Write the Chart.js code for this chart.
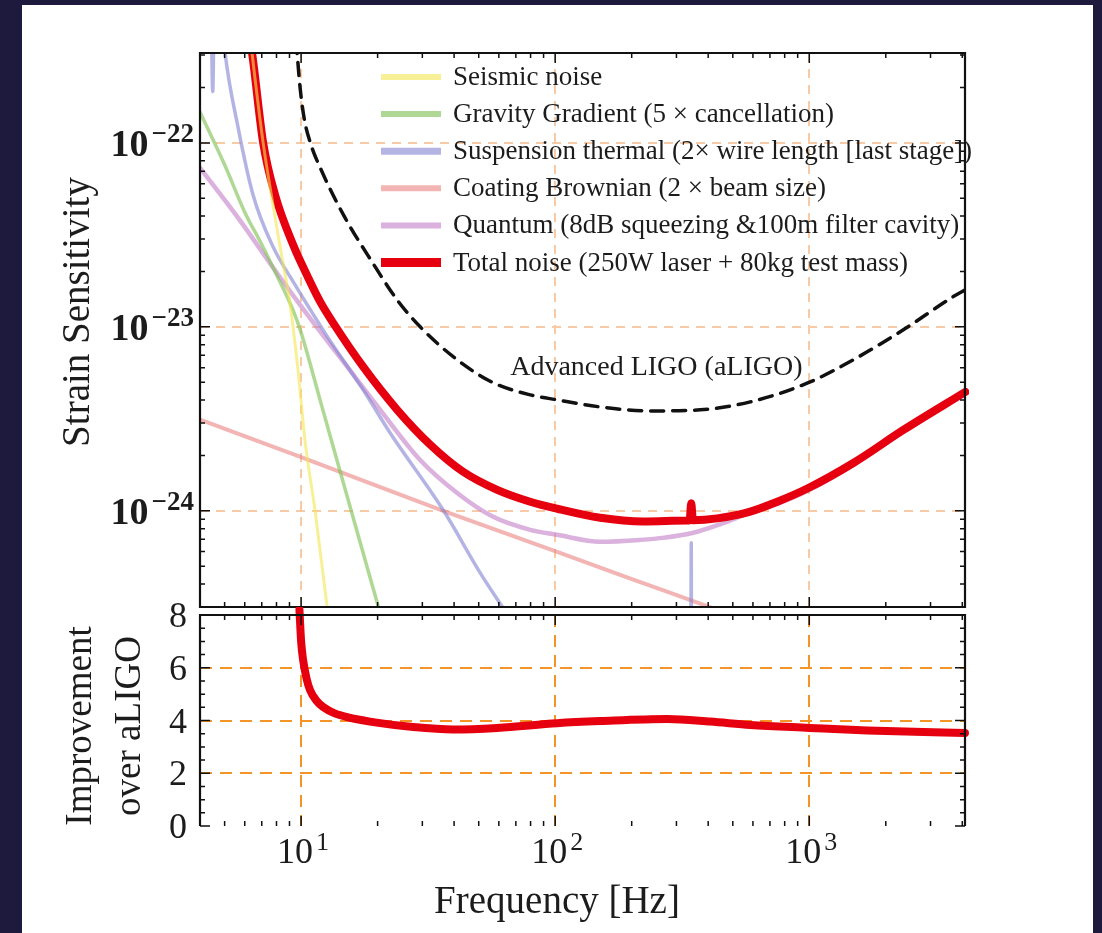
<!DOCTYPE html>
<html lang="en">
<head>
<meta charset="UTF-8">
<title>Strain Sensitivity</title>
<script src="https://cdn.jsdelivr.net/npm/chart.js"></script>
<style>
    body { margin: 0; width: 1102px; height: 933px; background: #1e1a3e; overflow: hidden; }
    #panel { position: absolute; left: 22px; top: 5px; width: 1071px; height: 928px; background: #fff; }
    canvas { position: absolute; left: 0; }
    #strainChart { top: 0; }
    #gainChart { top: 600px; }
</style>
</head>
<body>
<div id="panel"></div>
<canvas id="strainChart" width="1102" height="611"></canvas>
<canvas id="gainChart" width="1102" height="333"></canvas>

<script>
// tick values
const freqTicks = [10, 100, 1000];
const strainTicks = [1e-22, 1e-23, 1e-24];
const gainTicks = [0, 2, 4, 6, 8];

// noise curves: frequency [Hz] and strain [1/sqrt(Hz)]
const seismicF = [6.2, 6.41, 7.09, 7.69, 8.4, 9.05, 9.7, 10.4, 11.35, 12.66, 13.5];
const seismicH = [4.7e-22, 3.08e-22, 1.0e-22, 4.9e-23, 2.4e-23, 1.33e-23, 6.0e-24, 2.3e-24, 1.0e-24, 3.0e-25, 1.6e-25];

const gravityF = [4.0, 5.0, 6.0, 7.0, 8.0, 9.28, 10.0, 12.0, 15.0, 18.0, 19.92, 22.0];
const gravityH = [1.47e-22, 7.6e-23, 4.2e-23, 2.8e-23, 1.92e-23, 1.24e-23, 9.3e-24, 3.8e-24, 1.27e-24, 5.2e-25, 3.17e-25, 1.96e-25];

const suspF = [4.40, 4.49, 4.58, 5.02, 5.65, 6.47, 7.69, 9.47, 12.78, 17.54, 22.41, 36.24, 50.67, 61.85, 67.7, 80, 100, 150, 330, 340, 343.1, 346.2, 4100];
const suspH = [1.2e-21, 1.9e-22, 1.2e-21, 3.08e-22, 1.21e-22, 5.21e-23, 2.79e-23, 1.69e-23, 8.71e-24, 4.55e-24, 2.65e-24, 1.01e-24, 4.6e-25, 3.01e-25, 2.49e-25, 1.75e-25, 1.09e-25, 4.6e-26, 1e-27, 1e-27, 6.7e-25, 1e-27, 1e-28];

const coatingF = [4.0, 10.0, 36.24, 101.8, 202.8, 418.8, 921.8];
const coatingH = [3.13e-24, 1.96e-24, 1.0e-24, 5.98e-25, 4.23e-25, 2.95e-25, 1.97e-25];

const quantumF = [4.0, 5.65, 8.12, 10.37, 15.18, 20.47, 29.41, 41.14, 57.0, 79.73, 101.8, 150.4, 216.1, 270, 343.1, 450, 585.9, 748.2, 991.1, 1490, 2345, 4114];
const quantumH = [7.31e-23, 3.91e-23, 1.92e-23, 1.21e-23, 6.07e-24, 3.54e-24, 1.89e-24, 1.25e-24, 9.27e-25, 7.88e-25, 7.41e-25, 6.79e-25, 6.95e-25, 7.15e-25, 7.55e-25, 8.5e-25, 9.76e-25, 1.09e-24, 1.29e-24, 1.78e-24, 2.69e-24, 4.33e-24];

const totalF = [6.18, 6.41, 7.09, 7.90, 9.30, 10.66, 11.88, 13.37, 17.54, 23.88, 32.2, 43.43, 59.11, 79.73, 101.8, 150.4, 222.1, 331.0, 338.0, 343.1, 348.2, 434.3, 585.9, 748.2, 991.1, 1490, 2345, 4114];
const totalH = [4.11e-22, 3.08e-22, 1.0e-22, 5.21e-23, 2.79e-23, 1.85e-23, 1.37e-23, 1.05e-23, 6.07e-24, 3.54e-24, 2.29e-24, 1.63e-24, 1.30e-24, 1.12e-24, 1.026e-24, 9.16e-25, 8.75e-25, 8.85e-25, 8.87e-25, 1.10e-24, 8.89e-25, 9.1e-25, 9.9e-25, 1.12e-24, 1.33e-24, 1.82e-24, 2.75e-24, 4.43e-24];

const aligoF = [9.56, 9.645, 9.91, 10.27, 10.85, 12.10, 14.90, 19.04, 23.88, 29.41, 41.14, 57.0, 79.73, 101.8, 150.4, 236.6, 372.3, 585.9, 991.1, 1490, 2345, 3689, 4114];
const aligoH = [3.6e-22, 3.08e-22, 1.99e-22, 1.37e-22, 1.01e-22, 6.95e-23, 3.91e-23, 2.25e-23, 1.40e-23, 1.0e-23, 6.62e-24, 4.97e-24, 4.27e-24, 4.01e-24, 3.67e-24, 3.49e-24, 3.54e-24, 3.91e-24, 4.97e-24, 6.62e-24, 9.64e-24, 1.46e-23, 1.59e-23];

// improvement factor over aLIGO
const gainF = [9.85, 10.0, 10.18, 10.5, 10.85, 11.5, 12.21, 13.5, 15.18, 20.47, 27.61, 39.67, 59.11, 101.8, 150.4, 276.1, 407.6, 585.9, 1000, 1692, 3077, 4100];
const gainV = [8.2, 7.0, 6.3, 5.6, 5.15, 4.75, 4.51, 4.28, 4.13, 3.90, 3.75, 3.66, 3.72, 3.90, 3.98, 4.06, 3.96, 3.83, 3.72, 3.62, 3.55, 3.53];

const serif = '"Liberation Serif", "Times New Roman", serif';
const ink = '#1c1c1c';

const pts = (fs, vs) => fs.map((f, i) => ({ x: f, y: vs[i] }));

function logSteps(min, max) {
    const out = [];
    for (let d = Math.floor(Math.log10(min)); d <= Math.ceil(Math.log10(max)); d++) {
        for (let k = 1; k <= 9; k++) {
            const v = k * Math.pow(10, d);
            if (v >= min && v <= max) out.push({ v: v, major: k === 1 });
        }
    }
    return out;
}

function linSteps(min, max, step, every) {
    const out = [];
    for (let v = min; v <= max + 1e-9; v += step) out.push({ v: v, major: Math.abs(v / every - Math.round(v / every)) < 1e-9 });
    return out;
}

// "10" with a raised exponent
function power(ctx, base, exp, x, y, size, weight, align) {
    const small = Math.round(size * 0.72);
    ctx.font = weight + ' ' + size + 'px ' + serif;
    const bw = ctx.measureText(base).width;
    ctx.font = weight + ' ' + small + 'px ' + serif;
    const ew = ctx.measureText(exp).width;
    const total = bw + 3 + ew;
    const left = align === 'right' ? x - total : x - total / 2;
    ctx.textAlign = 'left';
    ctx.textBaseline = 'alphabetic';
    ctx.font = weight + ' ' + size + 'px ' + serif;
    ctx.fillText(base, left, y);
    ctx.font = weight + ' ' + small + 'px ' + serif;
    ctx.fillText(exp, left + bw + 3, y - Math.round(size * 0.37));
}

// frame and inward tick marks, Mathematica style
const frameTicks = {
    id: 'frameTicks',
    afterDatasetsDraw(chart, args, opts) {
        const { ctx, chartArea: a } = chart;
        const { x, y } = chart.scales;
        const xs = logSteps(x.min, x.max);
        const ys = y.type === 'logarithmic' ? logSteps(y.min, y.max) : linSteps(y.min, y.max, 0.5, 2);
        ctx.save();
        ctx.strokeStyle = '#111';
        ctx.lineWidth = 1.5;
        ctx.beginPath();
        xs.forEach(t => {
            const px = x.getPixelForValue(t.v), len = t.major ? 10 : 5;
            ctx.moveTo(px, a.top); ctx.lineTo(px, a.top + len);
            ctx.moveTo(px, a.bottom); ctx.lineTo(px, a.bottom - len);
        });
        ys.forEach(t => {
            const py = y.getPixelForValue(t.v), len = t.major ? 10 : 5;
            ctx.moveTo(a.left, py); ctx.lineTo(a.left + len, py);
            ctx.moveTo(a.right, py); ctx.lineTo(a.right - len, py);
        });
        ctx.stroke();
        ctx.lineWidth = 2.2;
        ctx.beginPath();
        ctx.moveTo(a.left, a.bottom);
        ctx.lineTo(a.left, a.top);
        ctx.lineTo(a.right, a.top);
        ctx.lineTo(a.right, a.bottom);
        if (opts.closed) ctx.closePath();
        ctx.stroke();
        ctx.restore();
    }
};

// labels, titles and legend of the strain panel
const strainText = {
    id: 'strainText',
    afterDraw(chart) {
        const { ctx } = chart;
        const { x, y } = chart.scales;
        ctx.save();
        ctx.fillStyle = ink;
        strainTicks.forEach(v => {
            power(ctx, '10', '\u2212' + Math.round(-Math.log10(v)), 194, y.getPixelForValue(v) + 13, 38, 'bold', 'right');
        });

        ctx.save();
        ctx.font = '39px ' + serif;
        ctx.textAlign = 'center';
        ctx.textBaseline = 'alphabetic';
        ctx.translate(89, 312);
        ctx.rotate(-Math.PI / 2);
        ctx.fillText('Strain Sensitivity', 0, 0);
        ctx.restore();

        // legend
        ctx.font = '27px ' + serif;
        ctx.textAlign = 'left';
        ctx.textBaseline = 'middle';
        chart.data.datasets.filter(d => d.keyWidth).forEach((d, i) => {
            const ky = 77 + i * 37.1;
            ctx.strokeStyle = d.borderColor;
            ctx.lineWidth = d.keyWidth;
            ctx.beginPath();
            ctx.moveTo(381, ky);
            ctx.lineTo(441, ky);
            ctx.stroke();
            ctx.fillText(d.label, 453, ky + 1);
        });

        // curve label for the aLIGO design sensitivity
        ctx.font = '28px ' + serif;
        ctx.textBaseline = 'alphabetic';
        ctx.fillText('Advanced LIGO (aLIGO)', x.getPixelForValue(66.5), y.getPixelForValue(5.48e-24));
        ctx.restore();
    }
};

// labels and titles of the improvement panel
const gainText = {
    id: 'gainText',
    afterDraw(chart) {
        const { ctx } = chart;
        const { x, y } = chart.scales;
        ctx.save();
        ctx.fillStyle = ink;
        ctx.font = '36px ' + serif;
        ctx.textAlign = 'right';
        ctx.textBaseline = 'alphabetic';
        gainTicks.forEach(v => ctx.fillText(String(v), 187, y.getPixelForValue(v) + 12));

        freqTicks.forEach(v => {
            power(ctx, '10', String(Math.round(Math.log10(v))), x.getPixelForValue(v) + 2, 263, 36, 'normal', 'center');
        });

        ctx.font = '39px ' + serif;
        ctx.textAlign = 'center';
        ctx.fillText('Frequency [Hz]', 557, 313);

        ctx.font = '37px ' + serif;
        ctx.save();
        ctx.translate(91, 126);
        ctx.rotate(-Math.PI / 2);
        ctx.fillText('Improvement', 0, 0);
        ctx.restore();
        ctx.save();
        ctx.translate(140, 126);
        ctx.rotate(-Math.PI / 2);
        ctx.fillText('over aLIGO', 0, 0);
        ctx.restore();
        ctx.restore();
    }
};

function logAxis(min, max, ticks, gridColor, dash) {
    return {
        type: 'logarithmic',
        min: min,
        max: max,
        ticks: { display: false },
        afterBuildTicks: s => { s.ticks = ticks.map(v => ({ value: v })); },
        grid: { drawTicks: false, color: gridColor, lineWidth: 2 },
        border: { display: false, dash: dash }
    };
}

const peach = '#f8cba6';
const orange = '#f29526';

new Chart(document.getElementById('strainChart'), {
    type: 'line',
    data: {
        datasets: [
            { label: 'Seismic noise', data: pts(seismicF, seismicH), borderColor: 'rgba(242,230,80,0.6)', borderWidth: 3, keyWidth: 6, order: 0 },
            { label: 'Gravity Gradient (5 \u00d7 cancellation)', data: pts(gravityF, gravityH), borderColor: 'rgba(130,195,90,0.65)', borderWidth: 3.5, keyWidth: 6, order: 3 },
            { label: 'Suspension thermal (2\u00d7 wire length [last stage])', data: pts(suspF, suspH), borderColor: 'rgba(130,130,210,0.6)', borderWidth: 3.5, keyWidth: 7, order: 4 },
            { label: 'Coating Brownian (2 \u00d7 beam size)', data: pts(coatingF, coatingH), borderColor: 'rgba(235,130,130,0.6)', borderWidth: 4, keyWidth: 6, order: 6 },
            { label: 'Quantum (8dB squeezing &100m filter cavity)', data: pts(quantumF, quantumH), borderColor: 'rgba(195,125,200,0.6)', borderWidth: 4.5, keyWidth: 6, order: 5 },
            { label: 'Total noise (250W laser + 80kg test mass)', data: pts(totalF, totalH), borderColor: '#e6000f', borderWidth: 8, keyWidth: 9, order: 1,
              clip: { left: 0, top: 0, right: 4, bottom: 0 } },
            { label: 'Advanced LIGO (aLIGO)', data: pts(aligoF, aligoH), borderColor: '#111', borderWidth: 3.5, borderDash: [13, 9], order: 2 }
        ]
    },
    options: {
        responsive: false,
        animation: false,
        layout: { padding: { left: 200, right: 137, top: 53, bottom: 4 } },
        elements: {
            point: { radius: 0 },
            line: { cubicInterpolationMode: 'monotone', borderCapStyle: 'round', borderJoinStyle: 'round' }
        },
        plugins: { legend: { display: false }, tooltip: { enabled: false }, frameTicks: { closed: true } },
        scales: {
            x: Object.assign(logAxis(4, 4100, freqTicks, peach, [9, 7]), { afterFit: s => { s.height = 0; } }),
            y: Object.assign(logAxis(3.03e-25, 3.08e-22, strainTicks, peach, [9, 7]), { afterFit: s => { s.width = 0; } })
        }
    },
    plugins: [frameTicks, strainText]
});

new Chart(document.getElementById('gainChart'), {
    type: 'line',
    data: {
        datasets: [
            { label: 'Improvement', data: pts(gainF, gainV), borderColor: '#e6000f', borderWidth: 8,
              clip: { left: 0, top: 8, right: 4, bottom: 0 } }
        ]
    },
    options: {
        responsive: false,
        animation: false,
        layout: { padding: { left: 200, right: 137, top: 15, bottom: 107 } },
        elements: {
            point: { radius: 0 },
            line: { cubicInterpolationMode: 'monotone', borderCapStyle: 'round', borderJoinStyle: 'round' }
        },
        plugins: { legend: { display: false }, tooltip: { enabled: false }, frameTicks: { closed: false } },
        scales: {
            x: Object.assign(logAxis(4, 4100, freqTicks, orange, [12, 8]), { afterFit: s => { s.height = 0; } }),
            y: {
                type: 'linear',
                min: 0,
                max: 8,
                ticks: { display: false },
                afterBuildTicks: s => { s.ticks = [2, 4, 6].map(v => ({ value: v })); },
                afterFit: s => { s.width = 0; },
                grid: { drawTicks: false, color: orange, lineWidth: 2 },
                border: { display: false, dash: [12, 8] }
            }
        }
    },
    plugins: [frameTicks, gainText]
});
</script>
</body>
</html>
